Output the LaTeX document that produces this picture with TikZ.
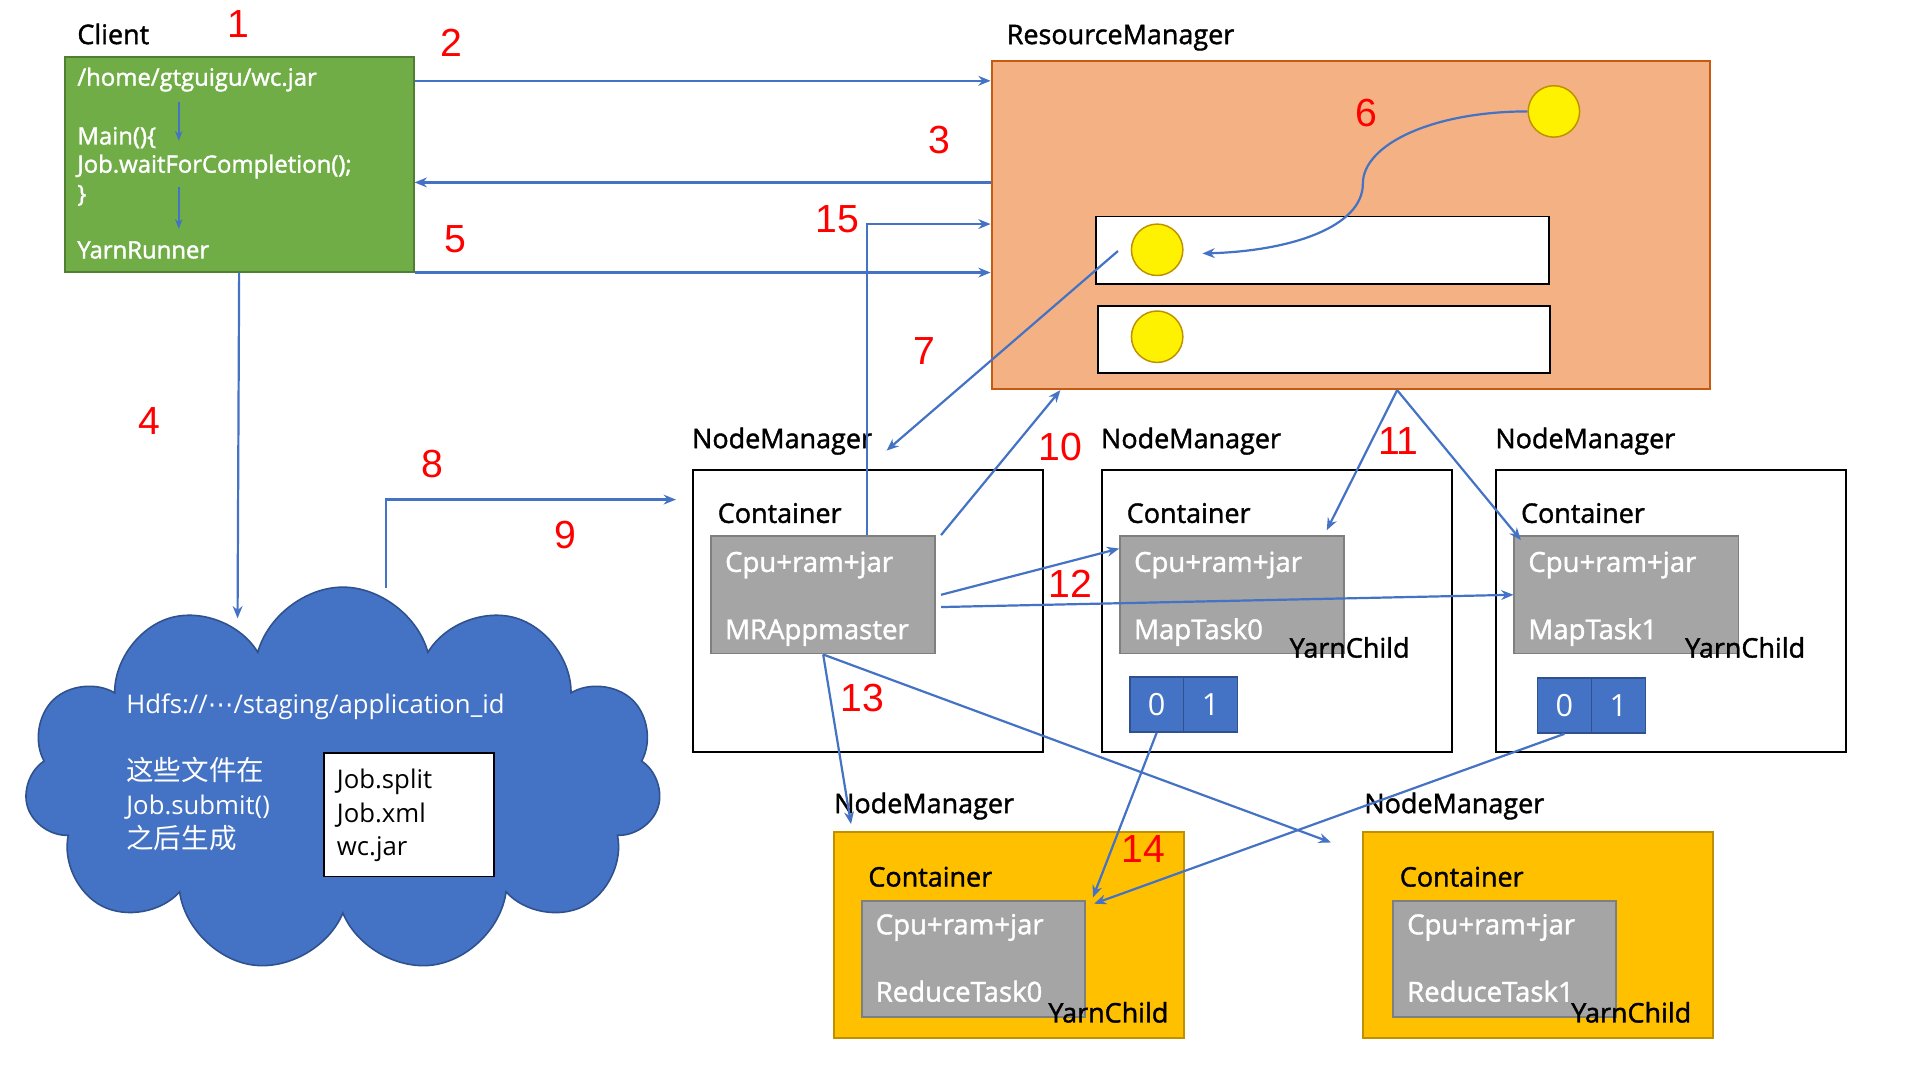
\documentclass[tikz,border=0pt]{standalone}
\usepackage{fontspec}
\setmainfont{Open Sans}[FakeBold=1.5]
\newfontfamily\plain{Open Sans}
\newfontfamily\cjk{Noto Sans CJK SC}
\newfontfamily\numfont{Liberation Sans}
\newfontfamily\symfont{DejaVu Sans}
\usetikzlibrary{arrows.meta,shapes.symbols}
\definecolor{hblue}{HTML}{4472C4}
\definecolor{blueline}{HTML}{2F528F}
\definecolor{greenfill}{HTML}{70AD47}
\definecolor{greenline}{HTML}{507E32}
\definecolor{rmfill}{HTML}{F4B183}
\definecolor{rmline}{HTML}{C55A11}
\definecolor{grayfill}{HTML}{A5A5A5}
\definecolor{grayline}{HTML}{7F7F7F}
\definecolor{gold}{HTML}{FFC000}
\definecolor{yline}{HTML}{BF9000}
\begin{document}
\begin{tikzpicture}[x=1pt,y=-1pt,
  every node/.style={inner sep=0pt},
  frame/.style={draw=black,line width=1.6pt,fill=white,anchor=north west},
  task/.style={draw=grayline,fill=grayfill,line width=1.5pt,anchor=north west,minimum width=183pt,minimum height=96pt},
  cell/.style={draw=blueline,fill=hblue,line width=1.3pt,anchor=north west,minimum width=44pt,minimum height=45pt,text=white,font=\plain\fontsize{25}{28}\selectfont},
  res/.style={circle,draw=yline,fill=yellow,line width=1.2pt,minimum size=42pt},
  txt/.style={anchor=base west,font=\fontsize{22}{26}\selectfont},
  wtxt/.style={txt,text=white,font=\fontsize{22.5}{26}\selectfont},
  ctxt/.style={wtxt,font=\fontsize{19.5}{23}\selectfont},
  htxt/.style={txt,font=\plain\fontsize{21}{25}\selectfont},
  num/.style={text=red,font=\numfont\fontsize{32}{36}\selectfont},
  flow/.style={draw=hblue,line width=1.8pt,-{Stealth[length=10pt,width=8pt]}}]

  \useasboundingbox (0,0) rectangle (1568,882);

  \node[txt] (clientlbl) at (63,36) {Client};
  \node[frame,draw=greenline,fill=greenfill,minimum width=285pt,minimum height=175pt] (client) at (52,46) {};
  \node[ctxt] (jar) at (63,70) {/home/gtguigu/wc.jar};
  \node[ctxt] (main) at (63,118) {Main()\{};
  \node[ctxt] (wait) at (63,141) {Job.waitForCompletion();};
  \node[ctxt] (brace) at (63,165) {\}};
  \node[ctxt] (runner) at (63,211) {YarnRunner};
  \coordinate (s1) at (146,83);
  \coordinate (s2) at (146,115);
  \coordinate (s3) at (146,153);
  \coordinate (s4) at (146,187);

  \node[txt] (rmlbl) at (822,36) {ResourceManager};
  \node[frame,draw=rmline,fill=rmfill,minimum width=587pt,minimum height=268pt] (rm) at (809,49) {};
  \node[frame,minimum width=370pt,minimum height=55pt] (slot1) at (894,176) {};
  \node[frame,minimum width=369pt,minimum height=55pt] (slot2) at (896,249) {};
  \node[res] (r0) at (1269,91) {};
  \node[res] (r1) at (945,204) {};
  \node[res] (r2) at (945,275) {};

  \node[txt] (nm1lbl) at (565,366) {NodeManager};
  \node[frame,minimum width=286pt,minimum height=230pt] (nm1) at (565,383) {};
  \node[txt] (ct1) at (586,427) {Container};
  \node[task] (am) at (580,437) {};
  \node[wtxt] (am1) at (592,467) {Cpu+ram+jar};
  \node[wtxt] (am2) at (592,522) {MRAppmaster};

  \node[txt] (nm2lbl) at (565+334,366) {NodeManager};
  \node[frame,minimum width=286pt,minimum height=230pt] (nm2) at (565+334,383) {};
  \node[txt] (ct2) at (586+334,427) {Container};
  \node[task] (mt0) at (580+334,437) {};
  \node[wtxt] (mt01) at (592+334,467) {Cpu+ram+jar};
  \node[wtxt] (mt02) at (592+334,522) {MapTask0};
  \node[txt] (yc0) at (1053,537) {YarnChild};
  \node[cell] (p00) at (922,552) {0};
  \node[cell] (p01) at (966,552) {1};

  \node[txt] (nm3lbl) at (565+656,366) {NodeManager};
  \node[frame,minimum width=286pt,minimum height=230pt] (nm3) at (565+656,383) {};
  \node[txt] (ct3) at (586+656,427) {Container};
  \node[task] (mt1) at (580+656,437) {};
  \node[wtxt] (mt11) at (592+656,467) {Cpu+ram+jar};
  \node[wtxt] (mt12) at (592+656,522) {MapTask1};
  \node[txt] (yc1) at (1376,537) {YarnChild};
  \node[cell] (p10) at (1255,553) {0};
  \node[cell] (p11) at (1299,553) {1};

  \node[txt] (nm4lbl) at (681,664) {NodeManager};
  \node[frame,draw=yline,fill=gold,minimum width=286pt,minimum height=168pt] (nm4) at (680,679) {};
  \node[txt] (ct4) at (709,724) {Container};
  \node[task,minimum width=182pt,minimum height=95pt] (rd0) at (703,735) {};
  \node[wtxt] (rd01) at (715,763) {Cpu+ram+jar};
  \node[wtxt] (rd02) at (715,818) {ReduceTask0};
  \node[txt] (yc2) at (856,835) {YarnChild};

  \node[txt] (nm5lbl) at (681+433,664) {NodeManager};
  \node[frame,draw=yline,fill=gold,minimum width=286pt,minimum height=168pt] (nm5) at (680+432,679) {};
  \node[txt] (ct5) at (709+434,724) {Container};
  \node[task,minimum width=182pt,minimum height=95pt] (rd1) at (703+434,735) {};
  \node[wtxt] (rd11) at (715+434,763) {Cpu+ram+jar};
  \node[wtxt] (rd12) at (715+434,818) {ReduceTask1};
  \node[txt] (yc3) at (1283,835) {YarnChild};

  \node[cloud,cloud puffs=11,cloud ignores aspect,draw=blueline,fill=hblue,line width=1.3pt,minimum width=520pt,minimum height=315pt] (hdfs) at (280,637) {};
  \node[htxt,text=white] (path) at (103,583) {Hdfs://{\symfont ⋯}/staging/application\_id};
  \node[htxt,text=white,font=\cjk\fontsize{22.5}{26}\selectfont] (note1) at (103,637) {这些文件在};
  \node[htxt,text=white] (note2) at (103,665) {Job.submit()};
  \node[htxt,text=white,font=\cjk\fontsize{22.5}{26}\selectfont] (note3) at (103,693) {之后生成};
  \node[frame,minimum width=139pt,minimum height=101pt] (files) at (264,614) {};
  \node[htxt] (f1) at (275,644) {Job.split};
  \node[htxt] (f2) at (275,672) {Job.xml};
  \node[htxt] (f3) at (275,699) {wc.jar};

  \node[num] (n1) at (195,20) {1};
  \node[num] (n2) at (369,35) {2};
  \node[num] (n3) at (767,114) {3};
  \node[num] (n4) at (122,344) {4};
  \node[num] (n5) at (372,195) {5};
  \node[num] (n6) at (1116,92) {6};
  \node[num] (n7) at (755,287) {7};
  \node[num] (n8) at (353,379) {8};
  \node[num] (n9) at (462,437) {9};
  \node[num] (n10) at (866,365) {10};
  \node[num] (n11) at (1142,360) {11};
  \node[num] (n12) at (874,477) {12};
  \node[num] (n13) at (704,570) {13};
  \node[num] (n14) at (934,693) {14};
  \node[num] (n15) at (684,179) {15};

  \coordinate (c4) at (194,505);
  \coordinate (c6) at (982,207);
  \coordinate (c7a) at (913,205);
  \coordinate (c7b) at (724,368);
  \coordinate (c8) at (315,480);
  \coordinate (c9) at (552,408);
  \coordinate (c13a) at (695,673);
  \coordinate (c13b) at (1087,688);

  \draw[flow,line width=1.3pt,-{Stealth[length=8pt,width=6pt]}] (s1) -- (s2);
  \draw[flow,line width=1.3pt,-{Stealth[length=8pt,width=6pt]}] (s3) -- (s4);
  \draw[flow] (client.east |- 0,66) -- (rm.west |- 0,66);
  \draw[flow] (rm.west |- 0,149) -- (client.east |- 0,149);
  \draw[flow] (client.south east) -- (rm.west |- client.south east);
  \draw[flow] (client.south) -- (c4);
  \draw[flow] (r0.west) .. controls (1170,91) and (1113,118) .. (1113,150) .. controls (1113,185) and (1055,205) .. (c6);
  \draw[flow] (c7a) -- (c7b);
  \draw[flow] (c8) |- (c9);
  \draw[flow] (am.north -| 708,0) |- (rm.west |- 0,183);
  \draw[flow] ([xshift=4pt]am.north east) -- (rm.south -| 866,0);
  \draw[flow] (rm.south -| 1141,0) -- ([xshift=-15pt,yshift=4pt]mt0.north east);
  \draw[flow] (rm.south -| 1141,0) -- ([xshift=6pt,yshift=-4pt]mt1.north west);
  \draw[flow] ([xshift=4pt]am.east) -- (mt0.west |- 0,448);
  \draw[flow] ([xshift=4pt,yshift=-10pt]am.east) -- (mt1.west);
  \draw[flow] (am.south) -- (c13a);
  \draw[flow] (am.south) -- (c13b);
  \draw[flow] (p00.south) -- ([xshift=6pt,yshift=2pt]rd0.north east);
  \draw[flow] (p10.south) -- ([xshift=7pt,yshift=-3pt]rd0.north east);
\end{tikzpicture}
\end{document}
